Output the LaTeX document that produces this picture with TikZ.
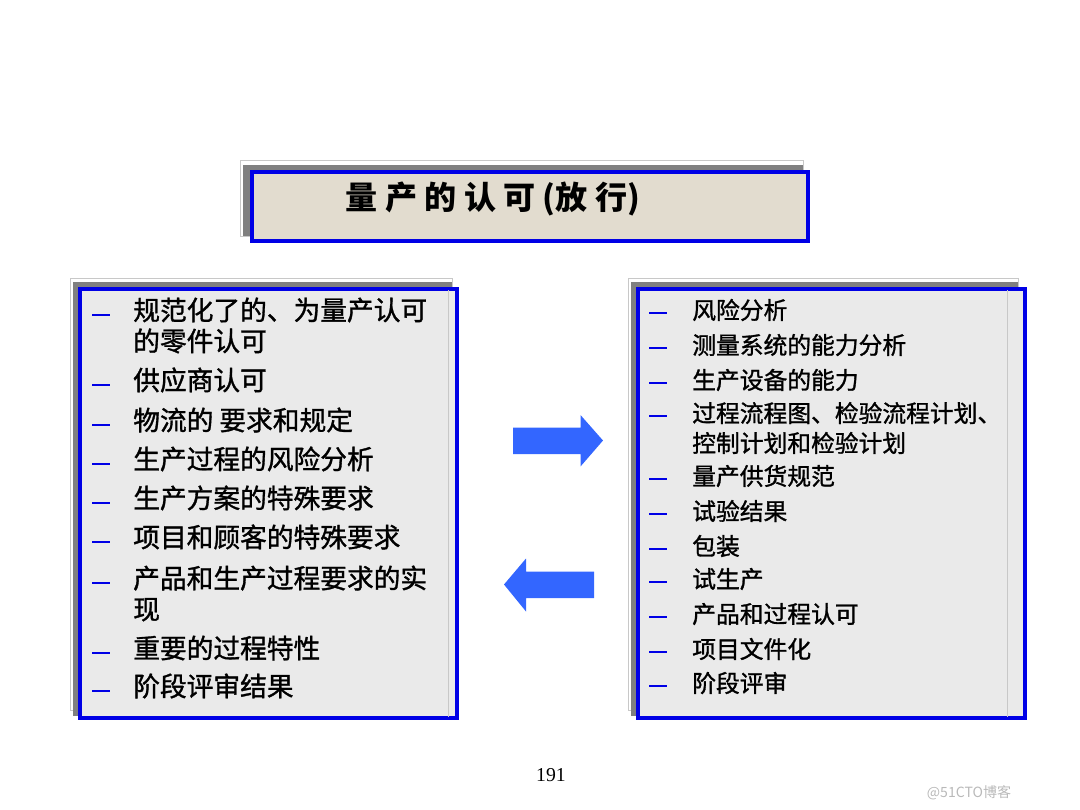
\documentclass[tikz,border=0pt]{standalone}
\usepackage{fontspec}
\setmainfont{Liberation Serif}
\newfontfamily\cjk{Noto Sans CJK SC}
\newfontfamily\cjkheavy[FakeBold=1.2]{Noto Sans CJK SC}
\usetikzlibrary{positioning}

\definecolor{frameblue}{RGB}{0,0,230}
\definecolor{arrowblue}{RGB}{51,102,255}
\definecolor{panelgray}{RGB}{234,234,234}
\definecolor{titlebeige}{RGB}{226,220,207}
\definecolor{shadegray}{RGB}{128,128,128}
\definecolor{edgegray}{RGB}{200,200,200}

\begin{document}
\begin{tikzpicture}[x=0.025cm, y=-0.025cm,
    panel/.style={draw=frameblue, line width=2.8pt, inner sep=0pt},
    shade/.style={fill=shadegray},
    edge/.style={draw=edgegray, line width=0.6pt},
    bar/.style={fill=frameblue, minimum width=0.45cm, minimum height=0.065cm, inner sep=0pt},
    litem/.style={anchor=west, align=left, inner sep=0pt, font=\cjkheavy\fontsize{19}{22}\selectfont},
    ritem/.style={anchor=west, align=left, inner sep=0pt, font=\cjkheavy\fontsize{16.9}{21.3}\selectfont},
    arrowshape/.style={fill=arrowblue}]
  \useasboundingbox (0,0) rectangle (1080,810);

  % title
  \draw[edge] (240,160) rectangle (803,236);
  \fill[shade] (243,165) rectangle (803,236);
  \node[panel, fill=titlebeige, minimum width=13.9cm, minimum height=1.725cm] (T) at (530,206.5) {};
  \node[font=\cjk\bfseries\fontsize{22.8}{26}\selectfont, inner sep=0pt] (TT) at (493,199) {量 产 的 认 可 (放 行)};

  % left panel
  \draw[edge] (70,278) rectangle (452,710);
  \fill[shade] (73,282) rectangle (452,716);
  \node[panel, fill=panelgray, minimum width=9.425cm, minimum height=10.725cm] (L) at (268.5,503.5) {};
  \draw[edge] (448,290) -- (448,717);

  % right panel
  \draw[edge] (628,278) rectangle (1018,710);
  \fill[shade] (631,282) rectangle (1018,716);
  \node[panel, fill=panelgray, minimum width=9.675cm, minimum height=10.725cm] (R) at (831.5,503.5) {};
  \draw[edge] (1007,290) -- (1007,717);

  % left items
  \node[litem] (l1)  at (133,325.5) {规范化了的、为量产认可\\的零件认可};
  \node[litem] (l2)  at (133,380)   {供应商认可};
  \node[litem] (l3)  at (133,420)   {物流的 要求和规定};
  \node[litem] (l4)  at (133,459)   {生产过程的风险分析};
  \node[litem] (l5)  at (133,498)   {生产方案的特殊要求};
  \node[litem] (l6)  at (133,537)   {项目和顾客的特殊要求};
  \node[litem] (l7)  at (133,593.5) {产品和生产过程要求的实\\现};
  \node[litem] (l8)  at (133,648)   {重要的过程特性};
  \node[litem] (l9)  at (133,686)   {阶段评审结果};

  \node[bar] (lb1) at (101,315) {};
  \node[bar] (lb2) at (101,385) {};
  \node[bar] (lb3) at (101,425) {};
  \node[bar] (lb4) at (101,464) {};
  \node[bar] (lb5) at (101,503) {};
  \node[bar] (lb6) at (101,542) {};
  \node[bar] (lb7) at (101,583) {};
  \node[bar] (lb8) at (101,653) {};
  \node[bar] (lb9) at (101,691) {};

  % right items
  \node[ritem] (r1)  at (692,310)   {风险分析};
  \node[ritem] (r2)  at (692,345)   {测量系统的能力分析};
  \node[ritem] (r3)  at (692,380)   {生产设备的能力};
  \node[ritem] (r4)  at (692,428)   {过程流程图、检验流程计划、\\控制计划和检验计划};
  \node[ritem] (r5)  at (692,476)   {量产供货规范};
  \node[ritem] (r6)  at (692,511)   {试验结果};
  \node[ritem] (r7)  at (692,546)   {包装};
  \node[ritem] (r8)  at (692,579)   {试生产};
  \node[ritem] (r9)  at (692,614)   {产品和过程认可};
  \node[ritem] (r10) at (692,649)   {项目文件化};
  \node[ritem] (r11) at (692,683)   {阶段评审};

  \node[bar] (rb1)  at (658,313) {};
  \node[bar] (rb2)  at (658,348) {};
  \node[bar] (rb3)  at (658,383) {};
  \node[bar] (rb4)  at (658,416) {};
  \node[bar] (rb5)  at (658,479) {};
  \node[bar] (rb6)  at (658,514) {};
  \node[bar] (rb7)  at (658,549) {};
  \node[bar] (rb8)  at (658,582) {};
  \node[bar] (rb9)  at (658,617) {};
  \node[bar] (rb10) at (658,652) {};
  \node[bar] (rb11) at (658,686) {};

  % arrows
  \fill[arrowshape] (513,427.5) -- (580.5,427.5) -- (580.5,415) -- (603,440.5)
                    -- (580.5,466.5) -- (580.5,454) -- (513,454) -- cycle;
  \fill[arrowshape] (594,571.5) -- (526,571.5) -- (526,558.5) -- (504,584.5)
                    -- (526,611.5) -- (526,598) -- (594,598) -- cycle;

  % footer
  \node[font=\fontsize{14}{16}\selectfont, inner sep=0pt] (pg) at (551,775) {191};
  \node[font=\cjk\fontsize{10}{12}\selectfont, text=gray!55, inner sep=0pt] (wm) at (969,793) {@51CTO博客};
\end{tikzpicture}
\end{document}
